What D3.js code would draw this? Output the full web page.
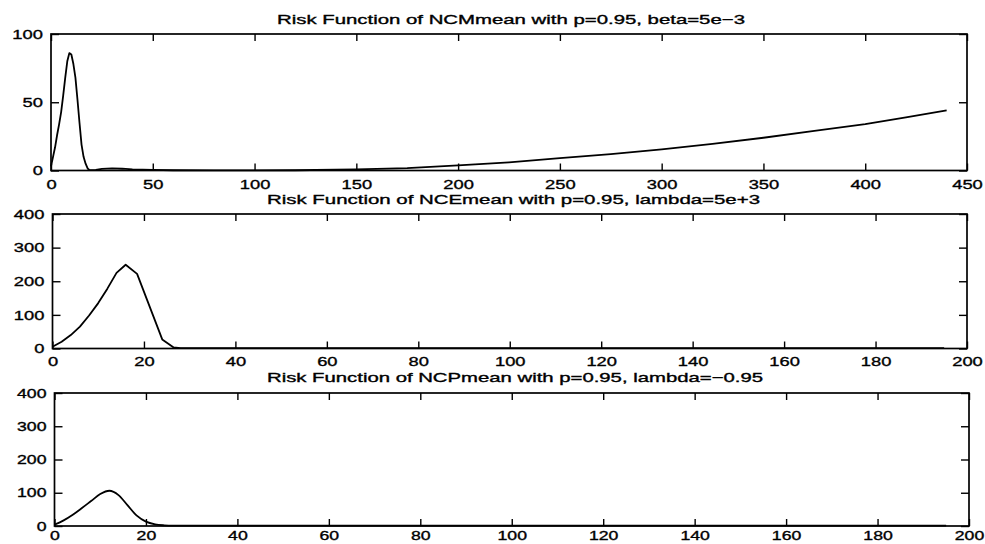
<!DOCTYPE html>
<html>
<head>
<meta charset="utf-8">
<script src="https://cdn.jsdelivr.net/npm/d3@7"></script>
<style>
  body { margin: 0; background: #fff; }
  svg { display: block; }
  .title, .tick text { font-family: "Liberation Sans", Arial, sans-serif; fill: #000; stroke: #000; stroke-width: 0.35px; }
</style>
</head>
<body>
<div id="chart"></div>
<script>
// Risk function of NCMmean (p=0.95, beta=5e-3)
const ncmX = [0, 1, 2, 3, 4, 5, 6, 7, 8, 9, 10, 11, 12, 13, 14, 15, 16, 17, 18, 19, 22, 25, 30, 35, 40, 50, 60, 80, 100, 120, 150, 175, 200, 225, 250, 275, 300, 325, 350, 375, 400, 420, 440];
const ncmY = [3, 10, 17, 26, 34, 43, 55, 68, 80, 86, 85, 78, 68, 52, 35, 19, 10, 5, 1.5, 0.3, 0.5, 1.2, 1.5, 1.3, 0.8, 0.4, 0.2, 0.1, 0.1, 0.2, 0.8, 1.8, 3.7, 6, 9, 12, 15.5, 19.5, 24, 29, 34, 39, 44];

// Risk function of NCEmean (p=0.95, lambda=5e+3)
const nceX = [0, 2, 4, 6, 8, 10, 12, 14, 16, 18.5, 24, 26.5, 28, 35, 50, 80, 120, 160, 195];
const nceY = [5, 20, 40, 65, 98, 135, 178, 225, 249, 222, 27, 3, 1, 1, 1, 1, 1, 1, 1];

// Risk function of NCPmean (p=0.95, lambda=-0.95)
const ncpX = [0, 2, 4, 6, 8, 10, 12, 14, 16, 18, 20, 22, 24, 26, 30, 50, 100, 150, 195];
const ncpY = [4, 17, 34, 54, 75, 96, 106, 93, 62, 31, 13, 5, 2, 1, 1, 1, 1, 1, 1];

const titles = [
  "Risk Function of NCMmean with p=0.95, beta=5e\u22123",
  "Risk Function of NCEmean with p=0.95, lambda=5e+3",
  "Risk Function of NCPmean with p=0.95, lambda=\u22120.95"
];
const xTicks1 = [0, 50, 100, 150, 200, 250, 300, 350, 400, 450];
const xTicks2 = [0, 20, 40, 60, 80, 100, 120, 140, 160, 180, 200];
const yTicks1 = [0, 50, 100];
const yTicks2 = [0, 100, 200, 300, 400];

const width = 985, height = 544;
const sx = 1.36; // wide-ish glyphs of the scan

const svg = d3.select("#chart").append("svg").attr("width", width).attr("height", height);

// panel boxes
const panels = [
  { x0: 51, x1: 967, y0: 34, y1: 170.5, xd: [0, 450], yd: [0, 100], xt: xTicks1, yt: yTicks1, xs: ncmX, ys: ncmY, title: titles[0], tx: 277, tw: 468, ty: 24, pad: 9 },
  { x0: 52.5, x1: 967, y0: 214, y1: 348.5, xd: [0, 200], yd: [0, 400], xt: xTicks2, yt: yTicks2, xs: nceX, ys: nceY, title: titles[1], tx: 267, tw: 493, ty: 203.5, pad: 8 },
  { x0: 54.5, x1: 969, y0: 393, y1: 526, xd: [0, 200], yd: [0, 400], xt: xTicks2, yt: yTicks2, xs: ncpX, ys: ncpY, title: titles[2], tx: 267, tw: 496, ty: 382, pad: 5 }
];

function drawPanel(p, i) {
  const x = d3.scaleLinear().domain(p.xd).range([p.x0, p.x1]);
  const y = d3.scaleLinear().domain(p.yd).range([p.y1, p.y0]);
  const g = svg.append("g");

  svg.append("text")
    .attr("class", "title")
    .attr("x", p.tx)
    .attr("y", p.ty)
    .attr("font-size", 13)
    .attr("textLength", p.tw)
    .attr("lengthAdjust", "spacingAndGlyphs")
    .text(p.title);

  // frame
  g.append("rect")
    .attr("x", p.x0).attr("y", p.y0)
    .attr("width", p.x1 - p.x0).attr("height", p.y1 - p.y0)
    .attr("fill", "none").attr("stroke", "#000").attr("stroke-width", 1.7);

  const bottom = g.append("g")
    .attr("transform", `translate(0,${p.y1})`)
    .call(d3.axisBottom(x).tickValues(p.xt).tickSize(-7).tickPadding(p.pad).tickFormat(d3.format("d")));
  const left = g.append("g")
    .attr("transform", `translate(${p.x0},0)`)
    .call(d3.axisLeft(y).tickValues(p.yt).tickSize(-8).tickPadding(8).tickFormat(d3.format("d")));
  g.append("g")
    .attr("transform", `translate(0,${p.y0})`)
    .call(d3.axisTop(x).tickValues(p.xt).tickSize(-7).tickFormat(""));
  g.append("g")
    .attr("transform", `translate(${p.x1},0)`)
    .call(d3.axisRight(y).tickValues(p.yt).tickSize(-8).tickFormat(""));

  g.selectAll(".domain").remove();
  g.selectAll(".tick line").attr("stroke", "#000").attr("stroke-width", 1.4);
  g.selectAll(".tick text").attr("font-size", i === 2 ? 13 : 13.5).attr("fill", "#000");

  bottom.selectAll(".tick text").attr("transform", `scale(${sx},1)`);
  left.selectAll(".tick text")
    .attr("x", -8 / sx)
    .attr("transform", `scale(${sx},1)`);

  const data = p.xs.map((v, k) => [v, p.ys[k]]);
  const line = d3.line()
    .x(d => x(d[0]))
    .y(d => y(d[1]))
    .curve(i === 2 ? d3.curveMonotoneX : d3.curveLinear);

  g.append("path")
    .datum(data)
    .attr("fill", "none")
    .attr("stroke", "#000")
    .attr("stroke-width", 1.8)
    .attr("stroke-linejoin", "round")
    .attr("d", line);
}

panels.forEach(drawPanel);
</script>
</body>
</html>
